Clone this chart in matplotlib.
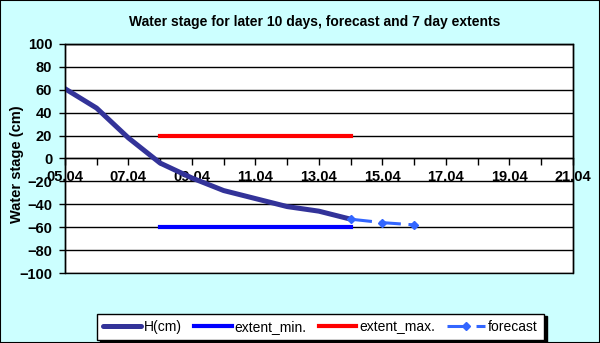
import matplotlib.pyplot as plt
from matplotlib.patches import Rectangle

# data (day index 0 = 05.04)
tick_labels = ['05.04', '07.04', '09.04', '11.04', '13.04', '15.04', '17.04', '19.04', '21.04']
h_days = [0, 1, 2, 3, 4, 5, 6, 7, 8, 9]
h_cm = [61, 44, 18, -4, -17, -28, -35, -42, -46, -53]
ext_days = [3, 9]
ext_min = [-60, -60]
ext_max = [20, 20]
fc_days = [9, 10, 11]
fc_cm = [-53, -56, -58]

plt.rcParams['font.family'] = ['Liberation Sans', 'DejaVu Sans']

fig = plt.figure(figsize=(6, 3.43), dpi=100)
fig.patch.set_facecolor('#CCFFFF')
fig.patches.append(Rectangle((0, 0), 1, 1, transform=fig.transFigure,
                             fill=False, edgecolor='black', linewidth=1.5))

ax = fig.add_axes([0.108, 0.204, 0.847, 0.668])
ax.set_facecolor('white')

ax.plot(h_days, h_cm, color='#333399', lw=3.6, label='H(cm)', solid_capstyle='round', zorder=3)
ax.plot(ext_days, ext_min, color='#0000FF', lw=3, label='extent_min.', zorder=3)
ax.plot(ext_days, ext_max, color='#FF0000', lw=3, label='extent_max.', zorder=3)
ax.plot(fc_days, fc_cm, color='#3366FF', lw=2.2, ls=(0, (7, 2.5)), marker='D',
        markersize=4, label='forecast', zorder=4)

ax.set_xlim(0, 16)
ax.set_ylim(-100, 100)
ax.set_yticks(range(-100, 101, 20))
ax.yaxis.grid(True, color='black', lw=1)
ax.set_axisbelow(True)
ax.tick_params(axis='y', labelsize=10.5, length=4, width=1, pad=5)
for t in ax.get_yticklabels():
    t.set_fontweight('bold')

# x axis drawn at zero
ax.spines['bottom'].set_position(('data', 0))
for s in ax.spines.values():
    s.set_linewidth(1)
ax.set_xticks(range(0, 17, 2))
ax.set_xticklabels(tick_labels, fontsize=10.5, fontweight='bold')
ax.set_xticks(range(0, 17), minor=True)
ax.tick_params(axis='x', which='both', direction='out', length=5, width=1, pad=3)

# outer frame of plot area
ax.add_patch(Rectangle((0, 0), 1, 1, transform=ax.transAxes, fill=False,
                       edgecolor='black', lw=1, zorder=5, clip_on=False))

ax.set_ylabel('Water stage (cm)', fontsize=10.5, fontweight='bold')
ax.yaxis.set_label_coords(-0.08, 0.476)
fig.text(0.525, 0.936, 'Water stage for later 10 days, forecast and 7 day extents',
         ha='center', va='center', fontsize=10, fontweight='bold')

leg = fig.legend(loc='center', bbox_to_anchor=(0.534, 0.047), ncol=4, fontsize=10,
                 frameon=True, fancybox=False,
                 shadow={'facecolor': 'black', 'edgecolor': 'black', 'alpha': 1},
                 handlelength=2.7, columnspacing=0.9, handletextpad=0.2,
                 borderpad=0.45)
leg.get_frame().set_edgecolor('black')
leg.get_frame().set_linewidth(1)

fig.savefig('out.png', dpi=100, facecolor=fig.get_facecolor())
